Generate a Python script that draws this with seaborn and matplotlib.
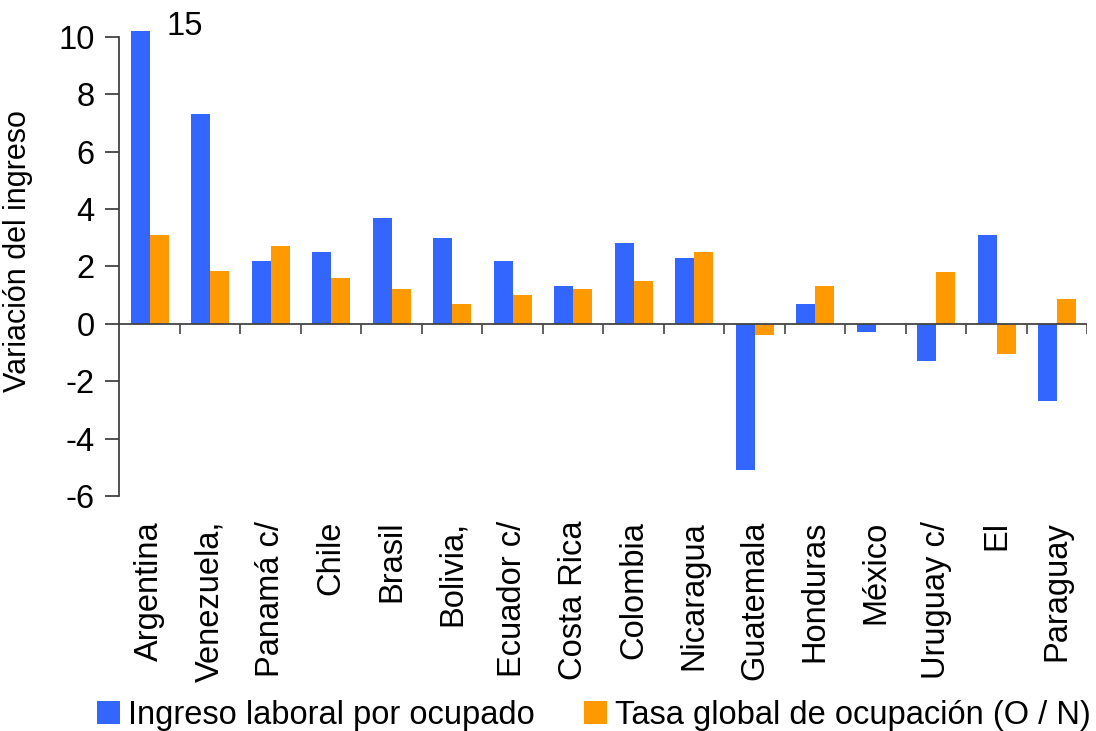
import numpy as np
import pandas as pd
import seaborn as sns
import matplotlib.pyplot as plt
from matplotlib.patches import Patch

paises = ['Argentina', 'Venezuela,', 'Panamá c/', 'Chile', 'Brasil', 'Bolivia,',
          'Ecuador c/', 'Costa Rica', 'Colombia', 'Nicaragua', 'Guatemala',
          'Honduras', 'México', 'Uruguay c/', 'El', 'Paraguay']
ingreso = [15.0, 7.3, 2.2, 2.5, 3.7, 3.0, 2.2, 1.3, 2.8, 2.3, -5.1, 0.7, -0.3, -1.3, 3.1, -2.7]
tasa = [3.1, 1.85, 2.7, 1.6, 1.2, 0.7, 1.0, 1.2, 1.5, 2.5, -0.4, 1.3, 0.0, 1.8, -1.05, 0.85]
series = ['Ingreso laboral por ocupado', 'Tasa global de ocupación (O / N)']
colores = ['#3366FF', '#FF9900']

df = pd.DataFrame({
    'pais': paises * 2,
    'valor': ingreso + tasa,
    'serie': [series[0]] * len(paises) + [series[1]] * len(paises),
})

plt.rcParams['font.family'] = ['Liberation Sans', 'DejaVu Sans']
plt.rcParams['axes.unicode_minus'] = False

fig = plt.figure(figsize=(10.96, 7.31), dpi=100)
fig.patch.set_facecolor('white')
ax = fig.add_axes([0.109, 0.3215, 0.8832, 0.636])

sns.barplot(data=df, x='pais', y='valor', hue='serie', order=paises,
            hue_order=series, palette=colores, saturation=1, width=0.63,
            legend=False, ax=ax)

ax.set_xlim(-0.5, 15.5)
ax.set_ylim(-6, 10.2)
ax.set_yticks(np.arange(-6, 11, 2))

# eje
for s in ['top', 'right', 'bottom']:
    ax.spines[s].set_visible(False)
ax.spines['left'].set_bounds(-6, 10)
ax.spines['left'].set_color('#333333')
ax.spines['left'].set_linewidth(1.2)
ax.axhline(0, color='#444444', linewidth=1.3, zorder=3)
ax.vlines(np.arange(len(paises)) + 0.5, -0.35, 0, color='#444444', linewidth=1.2, zorder=3)

ax.tick_params(axis='y', direction='out', length=10, width=1.2, color='#333333',
               labelsize=23.5, pad=8)
ax.tick_params(axis='x', length=0, labelsize=23.5, pad=18)
ax.set_xticks(range(len(paises)))
ax.set_xticklabels(paises, rotation=90, va='top', ha='center')
ax.set_xlabel('')
ax.set_ylabel('Variación del ingreso', fontsize=22)
ax.yaxis.set_label_coords(-0.089, 0.527)

# valor recortado
ax.text(0.27, 10.07, '15', fontsize=23.5, ha='left', va='baseline', clip_on=False)

handles = [Patch(facecolor=c, edgecolor='none') for c in colores]
fig.legend(handles, series, loc='center', bbox_to_anchor=(0.542, 0.021), ncol=2,
           frameon=False, fontsize=23.5, handlelength=0.7, handleheight=0.7,
           handletextpad=0.25, columnspacing=1.5, borderaxespad=0)

fig.savefig('out.png', dpi=100, facecolor='white')
